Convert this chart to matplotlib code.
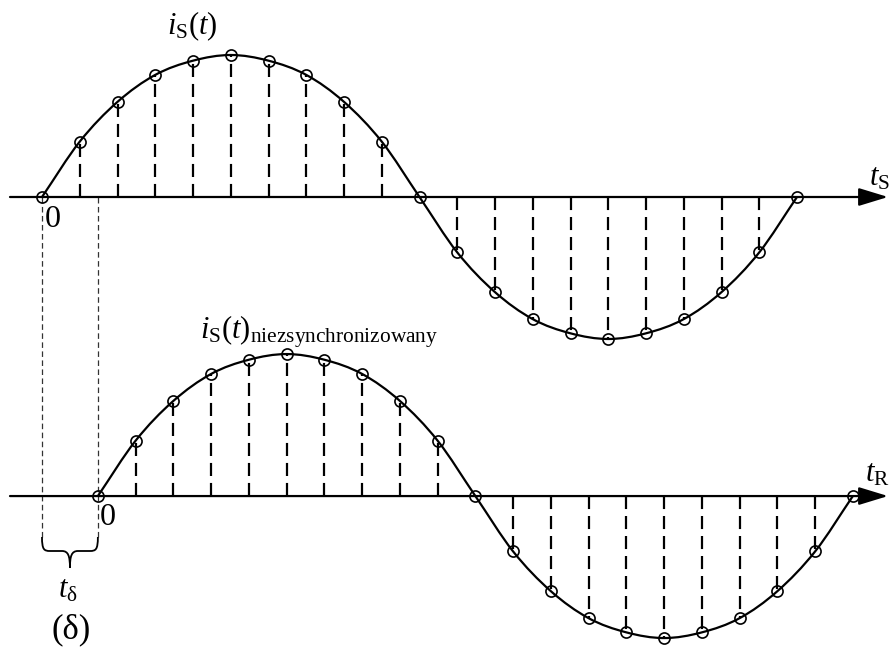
import numpy as np
import matplotlib
matplotlib.use("Agg")
import matplotlib.pyplot as plt
from matplotlib.path import Path
from matplotlib.patches import PathPatch, ArrowStyle

plt.rcParams['font.family'] = ['Liberation Serif', 'DejaVu Serif']
plt.rcParams['mathtext.fontset'] = 'custom'
plt.rcParams['mathtext.rm'] = 'Liberation Serif'
plt.rcParams['mathtext.it'] = 'Liberation Serif:italic'
plt.rcParams['mathtext.bf'] = 'Liberation Serif:bold'
plt.rcParams['lines.scale_dashes'] = False

# ---- data -------------------------------------------------------------
# one period of the current, sampled 20 times (values normalised to the peak)
sample_index = list(range(21))
sample_values = [0.0, 0.39, 0.67, 0.86, 0.96, 1.0, 0.96, 0.86, 0.67, 0.39, 0.0,
                 -0.39, -0.67, -0.86, -0.96, -1.0, -0.96, -0.86, -0.67, -0.39, 0.0]
t_delta = 1.48         # shift of the receiver time base, in samples
row_gap = 2.106        # distance between the t_S and t_R axes (peak = 1)

# ---- page layout (pixels of the 891 x 652 page) -----------------------
W, H = 891, 652
X0, DX = 42.0, 37.75   # pixel of t = 0 on the upper axis, pixels per sample
Y0, DY = 197.0, 142.0  # pixel row of the upper axis, pixels per unit amplitude


def px(xp, yp):
    """page pixel -> data coordinates"""
    return (xp - X0) / DX, (Y0 - yp) / DY


def pxx(xp):
    return px(xp, 0)[0]


def pxy(yp):
    return px(0, yp)[1]


fig = plt.figure(figsize=(W / 100, H / 100), dpi=100)
ax = fig.add_axes([0, 0, 1, 1])
ax.set_xlim(pxx(0), pxx(W))
ax.set_ylim(pxy(H), pxy(0))
ax.axis('off')

LW = 1.6


def smooth_curve(x, y):
    """Smooth cubic path through the samples, tangents wrapping over one period."""
    x = np.asarray(x, float)
    y = np.asarray(y, float)
    n = len(x)
    m = np.empty(n)
    for i in range(n):
        prev = y[i - 1] if i > 0 else y[n - 2]
        nxt = y[i + 1] if i < n - 1 else y[1]
        m[i] = (nxt - prev) / 2.0
    verts = [(x[0], y[0])]
    codes = [Path.MOVETO]
    for i in range(n - 1):
        h = x[i + 1] - x[i]
        verts += [(x[i] + h / 3, y[i] + m[i] / 3),
                  (x[i + 1] - h / 3, y[i + 1] - m[i + 1] / 3),
                  (x[i + 1], y[i + 1])]
        codes += [Path.CURVE4] * 3
    return Path(verts, codes)


def draw_row(shift, base, axis_label, label_baseline):
    t = np.asarray(sample_index, float) + shift
    v = np.asarray(sample_values, float)
    # time axis with arrow head
    ax.annotate('', xy=(pxx(888), base), xytext=(pxx(10), base),
                arrowprops=dict(arrowstyle=ArrowStyle('-|>', head_length=1.8, head_width=0.55),
                                mutation_scale=10, lw=LW, color='black',
                                shrinkA=0, shrinkB=0), zorder=2)
    # sampling instants (dashed) between the zero crossings
    inner = [i for i in range(len(t)) if v[i] != 0.0]
    ax.vlines(t[inner], base, base + v[inner], colors='black', lw=LW,
              linestyles=[(0, (9.4, 5.0))], zorder=2)
    # continuous waveform
    ax.add_patch(PathPatch(smooth_curve(t, base + v), facecolor='none',
                           edgecolor='black', lw=LW, zorder=3))
    # sample markers
    ax.plot(t, base + v, 'o', ms=8.0, mfc='none', mec='black', mew=1.2, zorder=4)
    # axis name
    ax.text(pxx(890), pxy(label_baseline), r'$t_{\mathrm{' + axis_label + r'}}$',
            ha='right', va='baseline', fontsize=22)


draw_row(0.0, 0.0, 'S', 185)
draw_row(t_delta, -row_gap, 'R', 481)

# zero labels
ax.text(*px(45, 227), '0', ha='left', va='baseline', fontsize=23)
ax.text(*px(100, 525), '0', ha='left', va='baseline', fontsize=23)

# waveform titles
ax.text(*px(167, 34), r'$i_{\mathrm{S}}(t)$', ha='left', va='baseline', fontsize=22)
ax.text(*px(200, 338), r'$i_{\mathrm{S}}(t)_{\mathrm{niezsynchronizowany}}$',
        ha='left', va='baseline', fontsize=22)

# thin guides marking the two time origins
y_guide_bot = pxy(537)
ax.vlines([0.0, t_delta], y_guide_bot, 0.0, colors='#333333', lw=0.9,
          linestyles=[(0, (4.0, 2.5))], zorder=1)

# curly brace under the offset
xl, xr = 0.0, t_delta
xm = (xl + xr) / 2
y_top = y_guide_bot
y_mid = pxy(551)
y_tip = pxy(568)
dx_c = pxx(X0 + 8)
verts = [(xl, y_top), (xl, y_mid + (y_top - y_mid) * 0.1), (xl + dx_c * 0.25, y_mid), (xl + dx_c, y_mid),
         (xm - dx_c, y_mid),
         (xm - dx_c * 0.2, y_mid), (xm, y_mid - (y_mid - y_tip) * 0.3), (xm, y_tip),
         (xm, y_mid - (y_mid - y_tip) * 0.3), (xm + dx_c * 0.2, y_mid), (xm + dx_c, y_mid),
         (xr - dx_c, y_mid),
         (xr - dx_c * 0.25, y_mid), (xr, y_mid + (y_top - y_mid) * 0.1), (xr, y_top)]
codes = [Path.MOVETO, Path.CURVE4, Path.CURVE4, Path.CURVE4,
         Path.LINETO,
         Path.CURVE4, Path.CURVE4, Path.CURVE4,
         Path.CURVE4, Path.CURVE4, Path.CURVE4,
         Path.LINETO,
         Path.CURVE4, Path.CURVE4, Path.CURVE4]
ax.add_patch(PathPatch(Path(verts, codes), facecolor='none', edgecolor='black', lw=1.3))

ax.text(pxx(68), pxy(598), r'$t_{\mathrm{δ}}$', ha='center', va='baseline', fontsize=22)
ax.text(pxx(71), pxy(638), '(δ)', ha='center', va='baseline', fontsize=25)

fig.savefig('out.png', dpi=100, facecolor='white')
